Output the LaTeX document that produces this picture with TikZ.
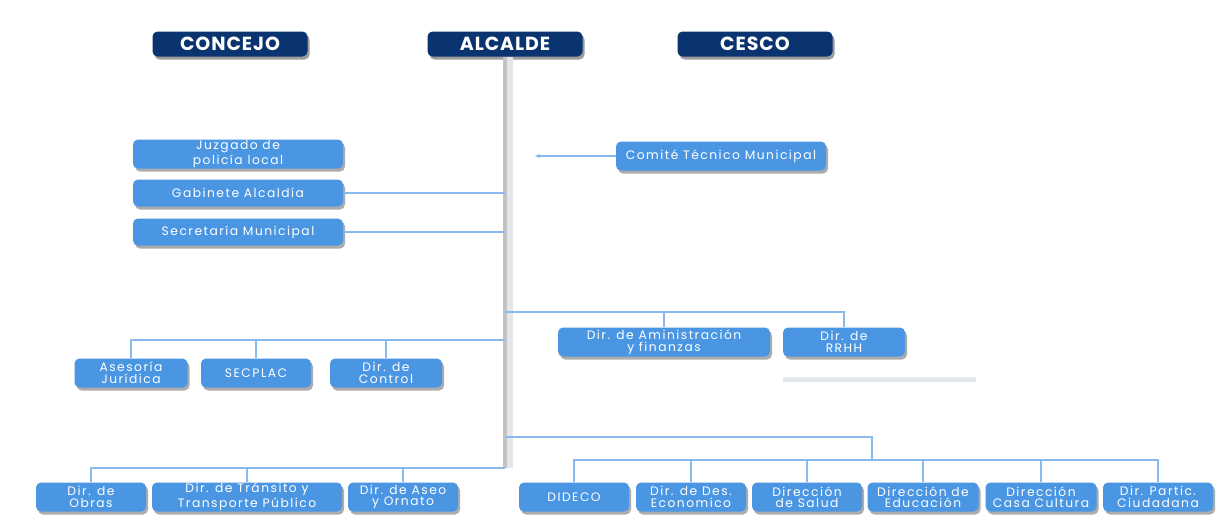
\documentclass[tikz,border=0pt]{standalone}
\usepackage{fontspec}
\setmainfont{Poppins}[LetterSpace=12]
\newfontfamily\headfont{Poppins}[LetterSpace=5]
\usetikzlibrary{shadows,arrows.meta}
\definecolor{navy}{RGB}{10,52,112}
\definecolor{boxblue}{RGB}{74,150,226}
\definecolor{lineblue}{RGB}{138,185,235}
\definecolor{spinegray}{RGB}{195,195,195}
\definecolor{barg}{RGB}{228,231,234}
\newdimen\px \px=0.02cm
\tikzset{
  hbox/.style={fill=navy, rounded corners=5\px, text=white, font=\headfont\fontsize{10.8}{11}\selectfont\bfseries,
    minimum width=155\px, minimum height=25\px, inner sep=0pt,
    drop shadow={shadow xshift=2\px, shadow yshift=-3\px, fill=black!55, opacity=0.7}},
  ubox/.style={fill=boxblue, rounded corners=5\px, text=white, font=\fontsize{7}{6.6}\selectfont,
    align=center, inner sep=0pt, minimum height=29\px,
    drop shadow={shadow xshift=2\px, shadow yshift=-3\px, fill=black!50, opacity=0.65}},
  conn/.style={draw=lineblue, line width=1.4\px},
  spine/.style={draw=spinegray, line width=4\px},
}
\begin{document}
\begin{tikzpicture}[x=0.02cm,y=-0.02cm]
\useasboundingbox[fill=white] (0,0) rectangle (1231,529);
% headers
\node[hbox] (conc) at (230,44) {CONCEJO};
\node[hbox] (alc) at (505,44) {ALCALDE};
\node[hbox] (cesco) at (755,44) {CESCO};
% spine
\coordinate (spbot) at (505,468);
\draw[draw=barg, line width=6\px] ([xshift=5\px]alc.south) -- ([xshift=5\px]spbot);
\draw[spine] (alc.south) -- (spbot);
% upper left
\node[ubox, minimum width=210\px] (juz) at (238,154) {Juzgado de\\policía local};
\node[ubox, minimum width=210\px, minimum height=27\px] (gab) at (238,193) {Gabinete Alcaldía};
\node[ubox, minimum width=210\px, minimum height=27\px] (sec) at (238,232) {Secretaría Municipal};
\draw[conn] (gab.east) -- (gab.east -| alc.south);
\draw[conn] (sec.east) -- (sec.east -| alc.south);
% comite
\node[ubox, minimum width=210\px] (com) at (721,156) {Comité Técnico Municipal};
\coordinate (comtip) at (535,156);
\draw[conn, -{Stealth[length=0.1cm,width=0.08cm]}] (com.west) -- (comtip);
% right middle group
\node[ubox, minimum width=212\px] (adm) at (664,342) {Dir. de Aministración\\y finanzas};
\node[ubox, minimum width=122\px] (rrhh) at (844,342) {Dir. de\\RRHH};
\coordinate (rj) at (505,312);
\draw[conn] (rj) -| (rrhh.north);
\draw[conn] (adm.north) -- (adm.north |- rj);
\fill[barg] (783,377) rectangle (976,382);
% left middle group
\node[ubox, minimum width=113\px] (ase) at (131,373) {Asesoría\\Jurídica};
\node[ubox, minimum width=110\px] (secp) at (256,373) {SECPLAC};
\node[ubox, minimum width=112\px] (ctrl) at (386,373) {Dir. de\\Control};
\coordinate (lj) at (505,340);
\draw[conn] (lj) -| (ase.north);
\draw[conn] (secp.north) -- (secp.north |- lj);
\draw[conn] (ctrl.north) -- (ctrl.north |- lj);
% bottom left group
\node[ubox, minimum width=110\px] (obr) at (91,497) {Dir. de\\Obras};
\node[ubox, minimum width=190\px] (tra) at (247,497) {Dir. de Tránsito y\\Transporte Público};
\node[ubox, minimum width=110\px] (aseo) at (403,497) {Dir. de Aseo\\y Ornato};
\draw[conn] (spbot) -| (obr.north);
\draw[conn] (tra.north) -- (tra.north |- spbot);
\draw[conn] (aseo.north) -- (aseo.north |- spbot);
% bottom right group
\node[ubox, minimum width=110\px] (did) at (574,497) {DIDECO};
\node[ubox, minimum width=110\px] (des) at (691,497) {Dir. de Des.\\Economico};
\node[ubox, minimum width=110\px] (sal) at (807,497) {Dirección\\de Salud};
\node[ubox, minimum width=111\px] (edu) at (923,497) {Dirección de\\Educación};
\node[ubox, minimum width=111\px] (cas) at (1041,497) {Dirección\\Casa Cultura};
\node[ubox, minimum width=110\px] (par) at (1158,497) {Dir. Partic.\\Ciudadana};
\coordinate (bj) at (505,437);
\coordinate (bk) at (872,460);
\draw[conn] (bj) -| (bk);
\draw[conn] (did.north) |- (bk) -| (par.north);
\foreach \n in {des,sal,edu,cas} \draw[conn] (\n.north) -- (\n.north |- bk);
\end{tikzpicture}
\end{document}
